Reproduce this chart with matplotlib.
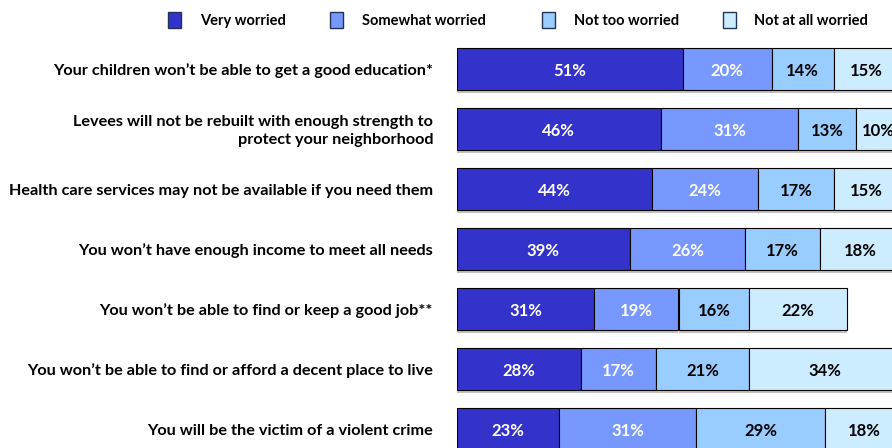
import matplotlib
matplotlib.use("Agg")
import matplotlib.pyplot as plt
from matplotlib.patches import Rectangle
import matplotlib.patheffects as pe

categories = [
    "Your children won\u2019t be able to get a good education*",
    "Levees will not be rebuilt with enough strength to\nprotect your neighborhood",
    "Health care services may not be available if you need them",
    "You won\u2019t have enough income to meet all needs",
    "You won\u2019t be able to find or keep a good job**",
    "You won\u2019t be able to find or afford a decent place to live",
    "You will be the victim of a violent crime",
]
series_names = ["Very worried", "Somewhat worried", "Not too worried", "Not at all worried"]
very = [51, 46, 44, 39, 31, 28, 23]
somewhat = [20, 31, 24, 26, 19, 17, 31]
not_too = [14, 13, 17, 17, 16, 21, 29]
not_at_all = [15, 10, 15, 18, 22, 34, 18]

colors = ["#3333CC", "#7799FF", "#99CCFF", "#CCECFF"]
text_colors = ["white", "white", "black", "black"]

FONT = "Lato"
W, H = 892, 448
fig = plt.figure(figsize=(W / 100, H / 100), dpi=100)

x0 = 457
scale = 4.43
ax = fig.add_axes([x0 / W, 0, (W - x0) / W, 1])
ax.set_xlim(0, (W - x0) / scale)
ax.set_ylim((H - 69) / 60, -69 / 60)
ax.axis("off")

series = [very, somewhat, not_too, not_at_all]
ypos = list(range(len(categories)))
left = [0] * len(categories)
for vals, c, tc in zip(series, colors, text_colors):
    bars = ax.barh(ypos, vals, left=left, height=0.7, color=c,
                   edgecolor="black", linewidth=0.8, clip_on=True)
    for b in bars:
        b.set_path_effects([pe.SimplePatchShadow(offset=(0, -2), shadow_rgbFace="#999999", alpha=0.6), pe.Normal()])
    for y, v, l in zip(ypos, vals, left):
        ax.text(l + v / 2, y + 0.03, f"{v}%", ha="center", va="center", color=tc,
                fontsize=12, fontweight="bold", family=FONT)
    left = [l + v for l, v in zip(left, vals)]

for y, cat in zip(ypos, categories):
    py = 71 + 60 * y
    fig.text(433 / W, 1 - py / H, cat, ha="right", va="center", ma="right",
             fontsize=11.7, fontweight="bold", family=FONT, linespacing=1.45)

# legend
leg_marker_x = [174, 336, 548, 729]
leg_text_x = [200, 362, 574, 754]
ly = 20
for mx, tx, name, c in zip(leg_marker_x, leg_text_x, series_names, colors):
    fig.patches.append(Rectangle(((mx - 6) / W, 1 - (ly + 8) / H), 13 / W, 16 / H,
                                 transform=fig.transFigure, facecolor=c,
                                 edgecolor="#223355", linewidth=1))
    fig.text(tx / W, 1 - (ly + 1) / H, name, ha="left", va="center",
             fontsize=10.5, fontweight="bold", family=FONT)

fig.savefig("out.png", dpi=100)
